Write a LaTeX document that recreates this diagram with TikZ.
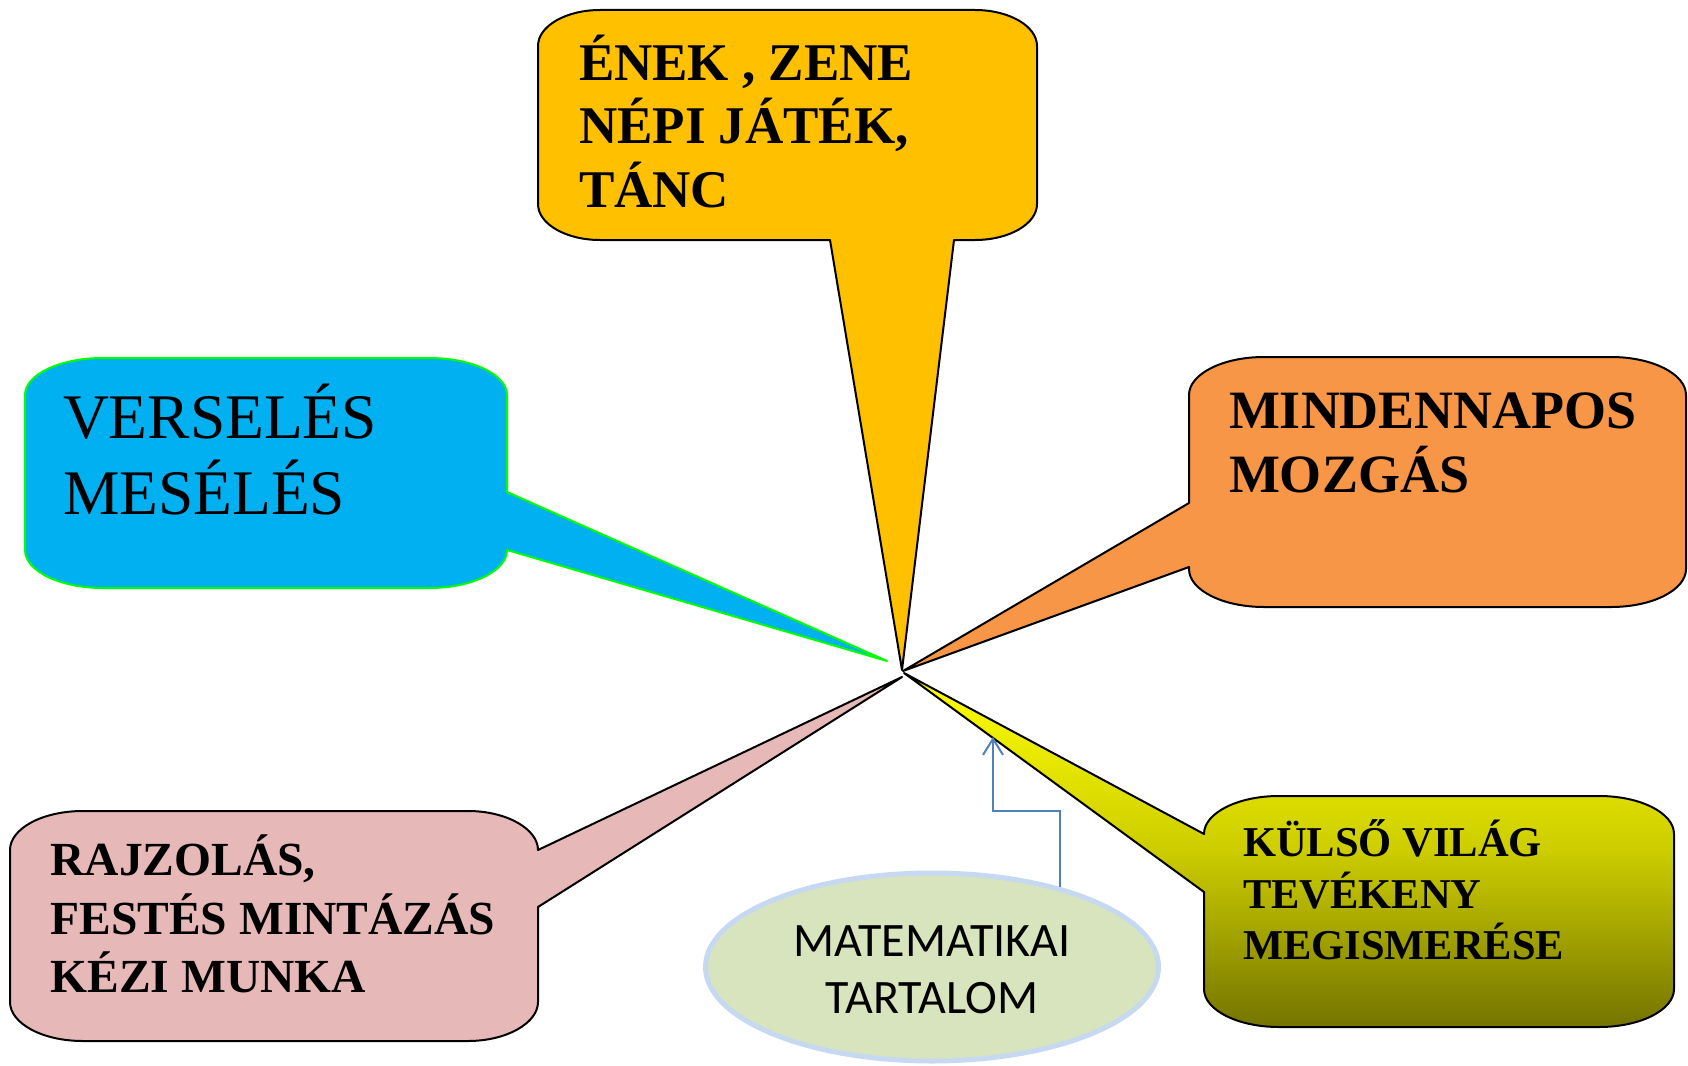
\documentclass[tikz,border=0pt]{standalone}
\usepackage{graphicx}
\usepackage{fontspec}
\setmainfont{Liberation Serif}
\newfontfamily\calfont{Carlito}
\usetikzlibrary{arrows.meta,shapes.geometric}
\definecolor{cGold}{RGB}{255,192,0}
\definecolor{cSky}{RGB}{0,176,240}
\definecolor{cLime}{RGB}{0,255,0}
\definecolor{cOrange}{RGB}{247,150,70}
\definecolor{cPink}{RGB}{230,185,184}
\definecolor{cYelTop}{RGB}{255,255,0}
\definecolor{cYelMid}{RGB}{205,205,0}
\definecolor{cYelBot}{RGB}{116,116,0}
\definecolor{cSage}{RGB}{215,228,189}
\definecolor{cPale}{RGB}{198,217,241}
\definecolor{cArrow}{RGB}{79,129,189}
\begin{document}
\begin{tikzpicture}[x=1pt,y=-1pt,
  callout/.style={draw=black,line width=2pt,line join=round},
  lbl/.style={anchor=base west,inner sep=0pt,outer sep=0pt,text=black},
  boldA/.style={lbl,font=\fontsize{53}{63}\selectfont\bfseries},
  boldB/.style={lbl,font=\fontsize{54}{64}\selectfont\bfseries},
  boldC/.style={lbl,font=\fontsize{47.5}{58}\selectfont\bfseries},
  boldD/.style={lbl,font=\fontsize{42.5}{52}\selectfont\bfseries},
  regA/.style={lbl,font=\fontsize{63.5}{76}\selectfont},
  conn/.style={draw=cArrow,line width=2pt,-{Straight Barb[length=16pt,width=20pt]}},
]
\useasboundingbox (0,0) rectangle (1688,1065);

% top callout (gold)
\path[callout,fill=cGold]
  (600,10) -- (975,10) .. controls +(34,0) and +(0,-20) .. (1037,46)
  -- (1037,204) .. controls +(0,20) and +(34,0) .. (975,240)
  -- (954,240) -- (902,670) -- (830,240)
  -- (600,240) .. controls +(-34,0) and +(0,20) .. (538,204)
  -- (538,46) .. controls +(0,-20) and +(-34,0) .. (600,10) -- cycle;

% left callout (sky blue)
\path[callout,draw=cLime,fill=cSky]
  (103,358) -- (429,358) .. controls +(43,0) and +(0,-20.5) .. (507,395)
  -- (507,492) -- (887,661) -- (507,550)
  .. controls +(0,21) and +(43,0) .. (429,588)
  -- (103,588) .. controls +(-43,0) and +(0,21) .. (25,550)
  -- (25,395) .. controls +(0,-20.5) and +(-43,0) .. (103,358) -- cycle;

% right callout (orange)
\path[callout,fill=cOrange]
  (1264,357) -- (1611,357) .. controls +(41.4,0) and +(0,-21) .. (1686,395)
  -- (1686,569) .. controls +(0,21) and +(41.4,0) .. (1611,607)
  -- (1264,607) .. controls +(-41.4,0) and +(0,21) .. (1189,569)
  -- (1189,567) -- (903,671) -- (1189,503)
  -- (1189,395) .. controls +(0,-21) and +(-41.4,0) .. (1264,357) -- cycle;

% lower left callout (pink)
\path[callout,fill=cPink]
  (83,811) -- (468,811) .. controls +(38.6,0) and +(0,-21) .. (538,850)
  -- (902,677) -- (538,907)
  -- (538,1002) .. controls +(0,21) and +(38.6,0) .. (468,1041)
  -- (83,1041) .. controls +(-41.4,0) and +(0,21) .. (10,1002)
  -- (10,850) .. controls +(0,-21) and +(-41.4,0) .. (83,811) -- cycle;

% lower right callout (yellow to olive)
\path[callout,top color=cYelTop,bottom color=cYelBot,middle color=cYelMid]
  (1279,796) -- (1599,796) .. controls +(41.4,0) and +(0,-21) .. (1674,834)
  -- (1674,989) .. controls +(0,21) and +(41.4,0) .. (1599,1027)
  -- (1279,1027) .. controls +(-41.4,0) and +(0,21) .. (1204,989)
  -- (1204,892) -- (904,673) -- (1204,834)
  .. controls +(0,-21) and +(-41.4,0) .. (1279,796) -- cycle;

% texts
\node[boldA] (t1) at (579,80)  {ÉNEK , ZENE};
\node[boldA] (t2) at (579,143) {NÉPI JÁTÉK,};
\node[boldA] (t3) at (579,207) {TÁNC};

\node[regA] (v1) at (63,438) {VERSELÉS};
\node[regA] (v2) at (63,514) {MESÉLÉS};

\node[boldB] (m1) at (1229,428) {MINDENNAPOS};
\node[boldB] (m2) at (1229,492) {MOZGÁS};

\node[boldC] (r1) at (50.5,875) {RAJZOLÁS,};
\node[boldC] (r2) at (50.5,934) {FESTÉS MINTÁZÁS};
\node[boldC] (r3) at (50.5,992) {KÉZI MUNKA};

\node[boldD] (k1) at (1243,856) {KÜLSŐ VILÁG};
\node[boldD] (k2) at (1243,908) {TEVÉKENY};
\node[boldD] (k3) at (1243,959) {MEGISMERÉSE};

% ellipse
\node[ellipse,draw=cPale,line width=5pt,fill=cSage,
      minimum width=453pt,minimum height=188pt,inner sep=0pt,
      align=center,font=\calfont\fontsize{48}{57}\selectfont]
  (math) at (932,967) {\rule{0pt}{37pt}MATEMATIKAI\\TARTALOM};

% connector
\coordinate (ahead) at (993,737);
\draw[conn] (math.32.4) -- ++(0,-76) -| (ahead);
\end{tikzpicture}
\end{document}
